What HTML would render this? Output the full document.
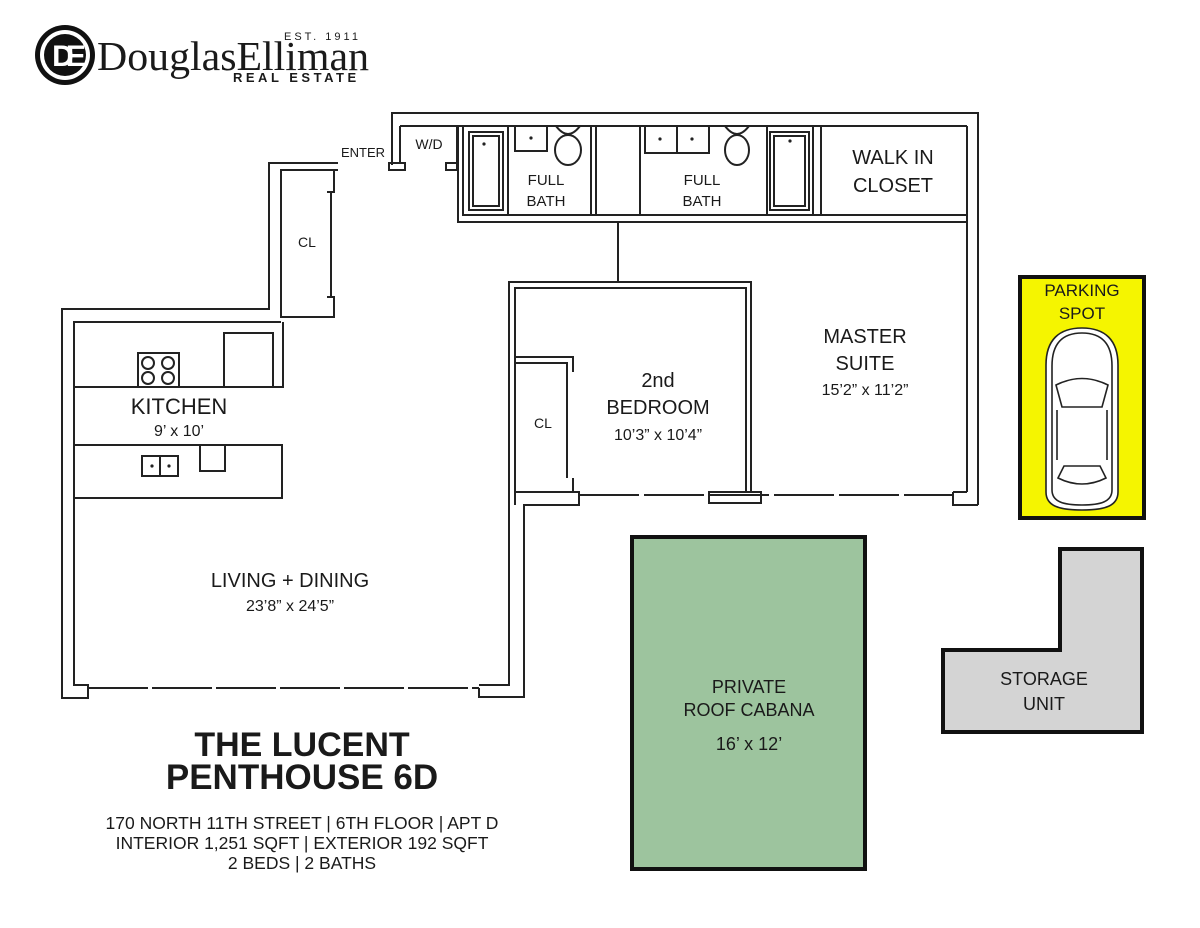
<!DOCTYPE html>
<html><head><meta charset="utf-8"><style>
html,body{margin:0;padding:0;background:#fff;}
svg{display:block;}
text{font-family:"Liberation Sans",sans-serif;fill:#1a1a1a;}
</style></head><body>
<svg width="1200" height="928" viewBox="0 0 1200 928" xmlns="http://www.w3.org/2000/svg">
<!-- Logo -->
<g>
<circle cx="65" cy="55" r="30" fill="#111"/>
<circle cx="65" cy="55" r="25" fill="#fff"/>
<circle cx="65" cy="55" r="21" fill="#111"/>
<text x="65" y="66" text-anchor="middle" font-family="Liberation Serif" font-size="30" font-weight="bold" style="fill:#fff" letter-spacing="-8">DE</text>
<text x="97" y="70" font-size="41" style="font-family:'Liberation Serif',serif" textLength="272" lengthAdjust="spacingAndGlyphs">DouglasElliman</text>
<text x="284" y="40" font-size="11" letter-spacing="3">EST. 1911</text>
<text x="233" y="82" font-size="13" font-weight="bold" letter-spacing="3.5">REAL ESTATE</text>
</g>

<g fill="none" stroke="#222" stroke-width="2">
<polyline points="392,165 392,113 978,113 978,505"/>
<line x1="400" y1="126" x2="400" y2="163"/>
<line x1="400" y1="126" x2="967" y2="126"/>
<line x1="967" y1="126" x2="967" y2="492"/>
<rect x="389" y="163" width="16" height="7"/>
<rect x="446" y="163" width="11" height="7"/>
<line x1="457" y1="126" x2="457" y2="163"/>
<polyline points="458,126 458,222 967,222"/>
<polyline points="463,126 463,215 967,215"/>
<rect x="469" y="132" width="34" height="78"/>
<rect x="473" y="136" width="26" height="70"/>
<line x1="508" y1="126" x2="508" y2="215"/>
<rect x="515" y="126" width="32" height="25"/>
<ellipse cx="568" cy="150" rx="13" ry="15"/>
<path d="M556,126 Q568,142 580,126"/>
<line x1="591" y1="126" x2="591" y2="215"/>
<line x1="596" y1="126" x2="596" y2="215"/>
<line x1="640" y1="126" x2="640" y2="215"/>
<rect x="645" y="126" width="32" height="27"/>
<rect x="677" y="126" width="32" height="27"/>
<ellipse cx="737" cy="150" rx="12" ry="15"/>
<path d="M725,126 Q737,142 749,126"/>
<line x1="767" y1="126" x2="767" y2="215"/>
<rect x="770" y="132" width="39" height="78"/>
<rect x="774" y="136" width="31" height="70"/>
<line x1="813" y1="126" x2="813" y2="215"/>
<line x1="821" y1="126" x2="821" y2="215"/>
<line x1="618" y1="222" x2="618" y2="282"/>
<polyline points="338,163 269,163 269,309 62,309 62,698 88,698 88,685 74,685 74,322 281,322"/>
<polyline points="338,170 281,170 281,317 334,317 334,297 327,297"/>
<polyline points="327,192 334,192 334,170"/>
<line x1="331" y1="192" x2="331" y2="297"/>
<polyline points="74,387 283,387 283,322"/>
<rect x="138" y="353" width="41" height="34"/>
<circle cx="148" cy="363" r="6"/><circle cx="168" cy="363" r="6"/>
<circle cx="148" cy="378" r="6"/><circle cx="168" cy="378" r="6"/>
<rect x="224" y="333" width="49" height="54"/>
<rect x="74" y="445" width="208" height="53"/>
<rect x="142" y="456" width="36" height="20"/>
<line x1="160" y1="456" x2="160" y2="476"/>
<rect x="200" y="445" width="25" height="26"/>
<line x1="88" y1="688" x2="479" y2="688" stroke-dasharray="60,4"/>
<polyline points="479,688 479,697 524,697 524,505 579,505 579,492 573,492 573,478"/>
<polyline points="479,685 509,685 509,282 751,282 751,492"/>
<polyline points="515,505 515,288 746,288 746,492"/>
<polyline points="515,357 573,357 573,372"/>
<polyline points="515,363 567,363 567,372"/>
<line x1="567" y1="372" x2="567" y2="478"/>
<line x1="515" y1="492" x2="573" y2="492"/>
<line x1="579" y1="495" x2="953" y2="495" stroke-dasharray="60,5"/>
<rect x="709" y="492" width="52" height="11"/>
<polyline points="953,492 953,505 978,505"/>
<line x1="953" y1="492" x2="967" y2="492"/>
</g>
<circle cx="484" cy="144" r="1.6" fill="#222"/>
<circle cx="531" cy="138" r="1.6" fill="#222"/>
<circle cx="660" cy="139" r="1.6" fill="#222"/>
<circle cx="692" cy="139" r="1.6" fill="#222"/>
<circle cx="790" cy="141" r="1.6" fill="#222"/>
<circle cx="152" cy="466" r="1.6" fill="#222"/>
<circle cx="169" cy="466" r="1.6" fill="#222"/>

<text x="363" y="157" font-size="13" text-anchor="middle">ENTER</text>
<text x="429" y="149" font-size="14" text-anchor="middle">W/D</text>
<text x="546" y="185" font-size="15" text-anchor="middle">FULL</text>
<text x="546" y="206" font-size="15" text-anchor="middle">BATH</text>
<text x="702" y="185" font-size="15" text-anchor="middle">FULL</text>
<text x="702" y="206" font-size="15" text-anchor="middle">BATH</text>
<text x="893" y="164" font-size="20" text-anchor="middle">WALK IN</text>
<text x="893" y="192" font-size="20" text-anchor="middle">CLOSET</text>
<text x="307" y="247" font-size="14" text-anchor="middle">CL</text>
<text x="543" y="428" font-size="14" text-anchor="middle">CL</text>
<text x="865" y="343" font-size="20" text-anchor="middle">MASTER</text>
<text x="865" y="370" font-size="20" text-anchor="middle">SUITE</text>
<text x="865" y="395" font-size="16" text-anchor="middle">15’2” x 11’2”</text>
<text x="658" y="387" font-size="20" text-anchor="middle">2nd</text>
<text x="658" y="414" font-size="20" text-anchor="middle">BEDROOM</text>
<text x="658" y="440" font-size="16" text-anchor="middle">10’3” x 10’4”</text>
<text x="179" y="414" font-size="22" text-anchor="middle">KITCHEN</text>
<text x="179" y="436" font-size="16" text-anchor="middle">9’ x 10’</text>
<text x="290" y="587" font-size="20" text-anchor="middle">LIVING + DINING</text>
<text x="290" y="611" font-size="16" text-anchor="middle">23’8” x 24’5”</text>

<rect x="632" y="537" width="233" height="332" fill="#9dc49e" stroke="#111" stroke-width="4"/>
<text x="749" y="693" font-size="18" text-anchor="middle">PRIVATE</text>
<text x="749" y="716" font-size="18" text-anchor="middle">ROOF CABANA</text>
<text x="749" y="750" font-size="18" text-anchor="middle">16’ x 12’</text>

<rect x="1020" y="277" width="124" height="241" fill="#f5f500" stroke="#111" stroke-width="4"/>
<text x="1082" y="296" font-size="17" text-anchor="middle">PARKING</text>
<text x="1082" y="319" font-size="17" text-anchor="middle">SPOT</text>
<g fill="#fff" stroke="#222" stroke-width="1.6">
<path d="M1082,328 C1105,328 1118,340 1118,365 L1118,492 C1118,506 1105,510 1082,510 C1059,510 1046,506 1046,492 L1046,365 C1046,340 1059,328 1082,328 Z"/>
<path d="M1082,333 C1101,333 1112,343 1112,366 L1112,490 C1112,502 1100,505 1082,505 C1064,505 1052,502 1052,490 L1052,366 C1052,343 1063,333 1082,333 Z"/>
<path d="M1056,385 Q1082,372 1108,385 L1102,407 L1062,407 Z"/>
<path d="M1058,478 L1064,466 L1100,466 L1106,478 Q1082,490 1058,478 Z"/>
<line x1="1057" y1="410" x2="1057" y2="460"/><line x1="1107" y1="410" x2="1107" y2="460"/>
</g>

<polygon points="1060,549 1142,549 1142,732 943,732 943,650 1060,650" fill="#d4d4d4" stroke="#111" stroke-width="4"/>
<text x="1044" y="685" font-size="18" text-anchor="middle">STORAGE</text>
<text x="1044" y="710" font-size="18" text-anchor="middle">UNIT</text>

<text x="302" y="756" font-size="34" font-weight="bold" text-anchor="middle">THE LUCENT</text>
<text x="302" y="789" font-size="35" font-weight="bold" text-anchor="middle">PENTHOUSE 6D</text>
<text x="302" y="829" font-size="17.5" text-anchor="middle">170 NORTH 11TH STREET | 6TH FLOOR | APT D</text>
<text x="302" y="849" font-size="17.5" text-anchor="middle">INTERIOR 1,251 SQFT | EXTERIOR 192 SQFT</text>
<text x="302" y="869" font-size="17.5" text-anchor="middle">2 BEDS | 2 BATHS</text>
</svg>
</body></html>
